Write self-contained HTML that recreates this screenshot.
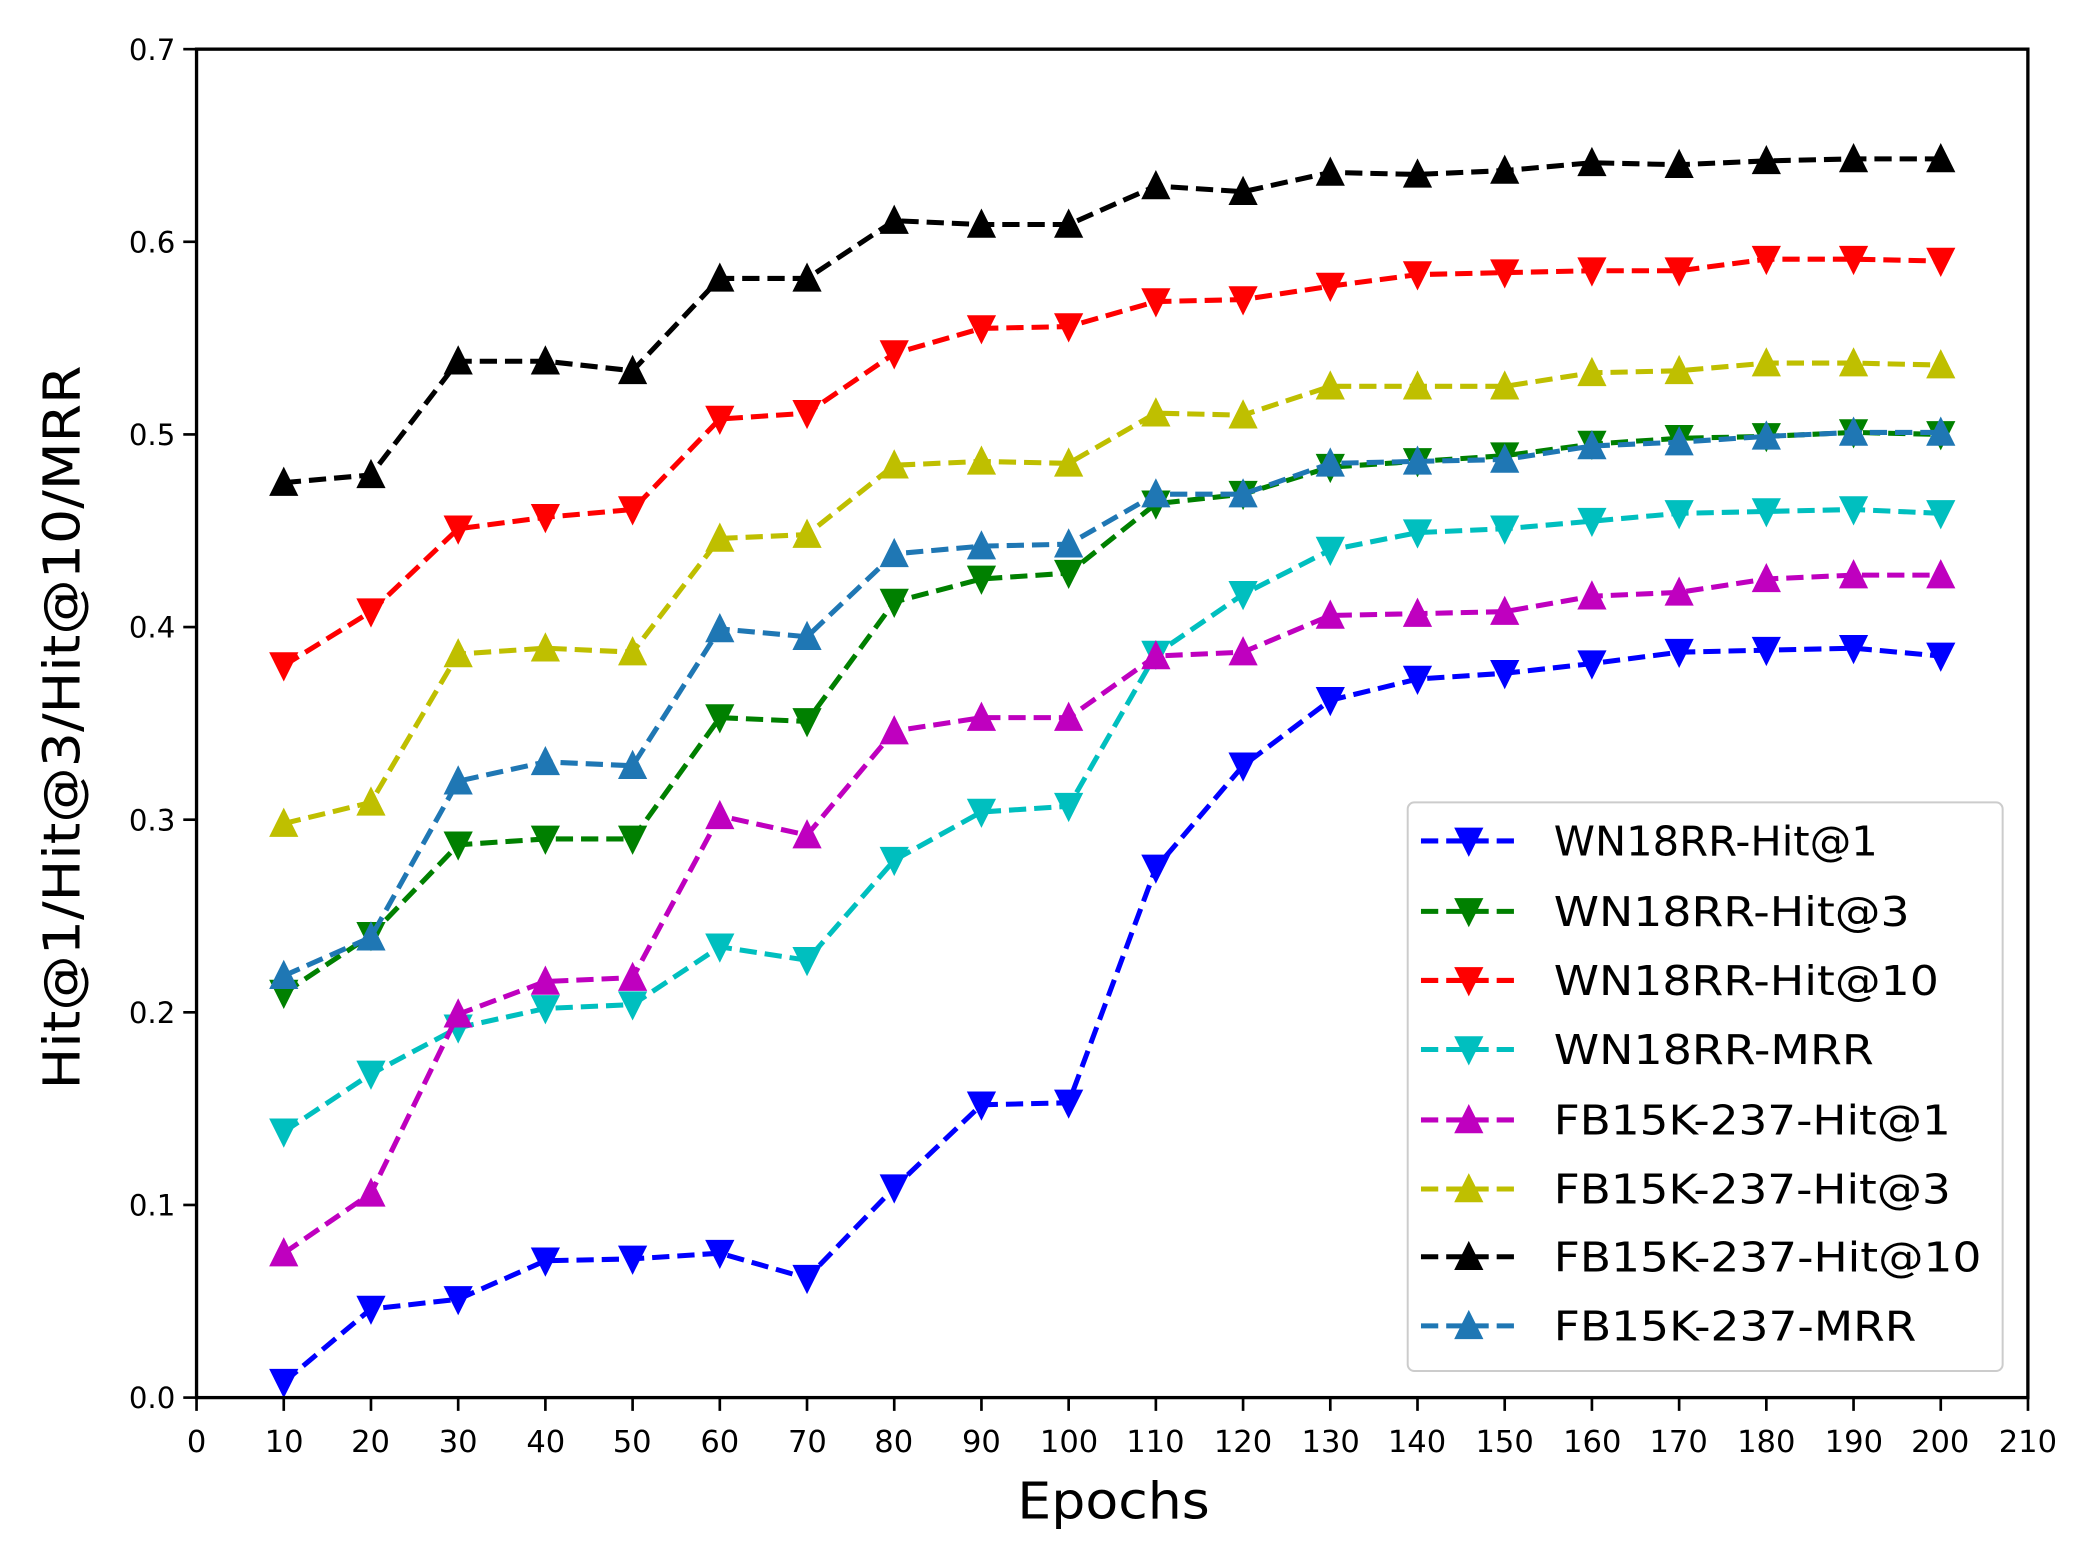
<!DOCTYPE html>
<html><head><meta charset="utf-8"><style>
html,body{margin:0;padding:0;background:#fff;width:2081px;height:1561px;overflow:hidden}
svg{display:block}
text{font-family:"DejaVu Sans","Liberation Sans",sans-serif;fill:#000}
</style></head><body>
<svg id="s" width="2081" height="1561" viewBox="0 0 1567 1175" preserveAspectRatio="none" xmlns="http://www.w3.org/2000/svg">
<rect x="0" y="0" width="1567" height="1175" fill="#fff"/>
<g id="series"></g>
<rect x="148" y="37" width="1379" height="1015" fill="none" stroke="#000" stroke-width="2.5"/>
<g font-size="22" text-anchor="end">
<text x="132" y="1060">0.0</text><text x="132" y="915">0.1</text><text x="132" y="770">0.2</text><text x="132" y="625">0.3</text><text x="132" y="480">0.4</text><text x="132" y="335">0.5</text><text x="132" y="190">0.6</text><text x="132" y="45">0.7</text>
</g>
<g font-size="23" text-anchor="middle">
<text x="148" y="1093">0</text><text x="214" y="1093">10</text><text x="279" y="1093">20</text><text x="345" y="1093">30</text><text x="411" y="1093">40</text><text x="476" y="1093">50</text><text x="542" y="1093">60</text><text x="608" y="1093">70</text><text x="673" y="1093">80</text><text x="739" y="1093">90</text><text x="805" y="1093">100</text><text x="870" y="1093">110</text><text x="936" y="1093">120</text><text x="1002" y="1093">130</text><text x="1067" y="1093">140</text><text x="1133" y="1093">150</text><text x="1199" y="1093">160</text><text x="1264" y="1093">170</text><text x="1330" y="1093">180</text><text x="1396" y="1093">190</text><text x="1461" y="1093">200</text><text x="1527" y="1093">210</text>
</g>
<g id="ticks" stroke="#000" stroke-width="2"></g>
<text x="766" y="1143" font-size="38" textLength="145" lengthAdjust="spacingAndGlyphs">Epochs</text>
<text transform="translate(60,820) rotate(-90)" font-size="38" textLength="545" lengthAdjust="spacingAndGlyphs">Hit@1/Hit@3/Hit@10/MRR</text>
<rect x="1060" y="604" width="448" height="428" rx="5" fill="#fff" fill-opacity="0.85" stroke="#ccc" stroke-width="1.5"/>
<g id="leg"></g>
<g font-size="31">
<text x="1170" y="644" textLength="244" lengthAdjust="spacingAndGlyphs">WN18RR-Hit@1</text>
<text x="1170" y="697" textLength="268" lengthAdjust="spacingAndGlyphs">WN18RR-Hit@3</text>
<text x="1170" y="749" textLength="290" lengthAdjust="spacingAndGlyphs">WN18RR-Hit@10</text>
<text x="1170" y="801" textLength="241" lengthAdjust="spacingAndGlyphs">WN18RR-MRR</text>
<text x="1170" y="854" textLength="299" lengthAdjust="spacingAndGlyphs">FB15K-237-Hit@1</text>
<text x="1170" y="906" textLength="299" lengthAdjust="spacingAndGlyphs">FB15K-237-Hit@3</text>
<text x="1170" y="957" textLength="322" lengthAdjust="spacingAndGlyphs">FB15K-237-Hit@10</text>
<text x="1170" y="1009" textLength="273" lengthAdjust="spacingAndGlyphs">FB15K-237-MRR</text>
</g>
</svg>
<script>
var NS="http://www.w3.org/2000/svg";
function X(v){return 148+v*6.567;}function Y(v){return 1052-v*1450;}
var S=[
["#0000ff",0,[0.008,0.046,0.051,0.071,0.072,0.075,0.062,0.109,0.152,0.153,0.275,0.328,0.362,0.373,0.376,0.381,0.387,0.388,0.389,0.385]],
["#008000",0,[0.210,0.240,0.287,0.290,0.290,0.353,0.351,0.413,0.425,0.428,0.464,0.469,0.483,0.486,0.489,0.495,0.498,0.499,0.501,0.500]],
["#ff0000",0,[0.380,0.408,0.451,0.457,0.461,0.508,0.511,0.542,0.555,0.556,0.569,0.570,0.577,0.583,0.584,0.585,0.585,0.591,0.591,0.590]],
["#00bfbf",0,[0.138,0.168,0.192,0.202,0.204,0.234,0.227,0.279,0.304,0.307,0.386,0.417,0.440,0.449,0.451,0.455,0.459,0.460,0.461,0.459]],
["#bf00bf",1,[0.075,0.106,0.199,0.216,0.218,0.302,0.292,0.346,0.353,0.353,0.385,0.387,0.406,0.407,0.408,0.416,0.418,0.425,0.427,0.427]],
["#bfbf00",1,[0.298,0.309,0.386,0.389,0.387,0.446,0.448,0.484,0.486,0.485,0.511,0.510,0.525,0.525,0.525,0.532,0.533,0.537,0.537,0.536]],
["#000000",1,[0.475,0.479,0.538,0.538,0.533,0.581,0.581,0.611,0.609,0.609,0.629,0.626,0.636,0.635,0.637,0.641,0.640,0.642,0.643,0.643]],
["#1f77b4",1,[0.219,0.239,0.320,0.330,0.328,0.399,0.395,0.438,0.442,0.443,0.469,0.469,0.485,0.486,0.487,0.494,0.496,0.499,0.501,0.501]]];
function tri(x,y,up){var h=10,w=11;return up?(x-w)+","+(y+h)+" "+(x+w)+","+(y+h)+" "+x+","+(y-h-2):(x-w)+","+(y-h)+" "+(x+w)+","+(y-h)+" "+x+","+(y+h+2);}
var g=document.getElementById("series"),lg=document.getElementById("leg");
function el(p,n,a){var e=document.createElementNS(NS,n);for(var k in a)e.setAttribute(k,a[k]);p.appendChild(e);return e;}
S.forEach(function(s,i){
 var pts=s[2].map(function(v,j){return X(10*(j+1)).toFixed(1)+","+Y(v).toFixed(1);}).join(" ");
 el(g,"polyline",{points:pts,fill:"none",stroke:s[0],"stroke-width":3.8,"stroke-dasharray":"13,6"});
 s[2].forEach(function(v,j){el(g,"polygon",{points:tri(X(10*(j+1)),Y(v),s[1]),fill:s[0]});});
 var ly=[633,686,738,790,843,895,946,998][i];
 el(lg,"line",{x1:1070,y1:ly,x2:1142,y2:ly,stroke:s[0],"stroke-width":3.8,"stroke-dasharray":"13,6"});
 el(lg,"polygon",{points:tri(1106,ly,s[1]),fill:s[0]});
});
var t=document.getElementById("ticks");
for(var i=0;i<=21;i++){var x=148+i*65.67;el(t,"line",{x1:x,y1:1052,x2:x,y2:1062});}
for(var i=0;i<=7;i++){var y=1052-i*145;el(t,"line",{x1:138,y1:y,x2:148,y2:y});}
</script>
</body></html>
